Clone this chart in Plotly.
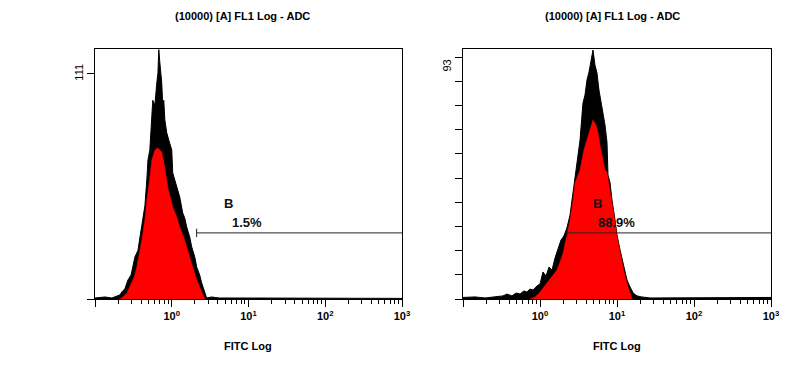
import plotly.graph_objects as go

# ---------------- data ----------------
title_text = "(10000) [A] FL1 Log - ADC"
x_title = "FITC Log"

# Left histogram: outer (black, noisy maximum) envelope
left_outer_x = [0.100, 0.135, 0.166, 0.195, 0.211, 0.224, 0.245, 0.269, 0.295, 0.331,
                0.363, 0.380, 0.417, 0.447, 0.473, 0.490, 0.518, 0.533, 0.550, 0.566,
                0.603, 0.619, 0.638, 0.661, 0.678, 0.698, 0.719, 0.741, 0.764, 0.787,
                0.813, 0.861, 0.914, 1.000, 1.030, 1.094, 1.161, 1.271, 1.390, 1.476,
                1.567, 1.714, 1.820, 1.995, 2.113, 2.312, 2.455, 2.692, 2.851, 3.311,
                4.169, 7.586, 45.7, 1000]
left_outer_y = [0.5, 1.0, 0.5, 1.5, 2, 3.5, 5, 9.4, 11.8, 20.7,
                24, 29, 39, 46, 58.7, 68.6, 73.5, 83, 91.8, 98,
                95.7, 103, 106.5, 111.5, 123, 117, 110.5, 106.5, 94.7, 98,
                88.3, 82, 78.4, 73.5, 62.2, 58.7, 55.3, 50.3, 42.4, 40,
                35.5, 30.6, 25.7, 20.7, 15.8, 11.8, 7.9, 3.5, 0.5, 1,
                0.5, 0.5, 0.5, 0.3]
# Left histogram: inner (red) envelope
left_inner_x = [0.211, 0.231, 0.261, 0.285, 0.324, 0.351, 0.384, 0.407, 0.447, 0.473,
                0.518, 0.550, 0.603, 0.661, 0.698, 0.741, 0.813, 0.887, 0.942, 1.030,
                1.161, 1.271, 1.432, 1.567, 1.714, 1.875, 2.051, 2.312, 2.529, 2.692]
left_inner_y = [0, 1, 3, 5.9, 10.9, 15.8, 23.2, 29.1, 39, 48.8,
                59.7, 68.6, 73.5, 74.5, 73.5, 72.5, 65, 55.3, 51.3, 45.4,
                40.5, 35.5, 30.6, 25.7, 20.7, 15.8, 10.9, 5.9, 2, 0]

# Right histogram: outer envelope
right_outer_x = [0.100, 0.143, 0.193, 0.261, 0.331, 0.372, 0.433, 0.490, 0.550, 0.617,
                 0.676, 0.741, 0.813, 0.914, 1.000, 1.094, 1.197, 1.309, 1.432, 1.567,
                 1.714, 1.875, 2.042, 2.239, 2.455, 2.606, 2.754, 2.938, 3.119, 3.311,
                 3.508, 3.614, 3.837, 4.074, 4.325, 4.592, 4.875, 5.176, 5.495, 5.834,
                 6.166, 6.577, 6.982, 7.413, 7.638, 8.128, 8.610, 9.419, 10.0, 10.96,
                 12.02, 13.49, 14.79, 16.22, 18.20, 20.89, 26.92, 120.2, 218.8, 1000]
right_outer_y = [0.6, 0.8, 0.4, 0.8, 1.2, 1.9, 1.2, 2.3, 1.9, 3.1,
                 2.7, 3.8, 3.5, 5, 5.8, 10.4, 8.8, 12.3, 11.1, 15.8,
                 19.6, 22.7, 24.2, 27.3, 32.3, 38, 43.8, 49.6, 55.3, 61.1,
                 70.7, 75.3, 78.4, 84.2, 87.2, 91.8, 95.7, 89.9, 86.9, 80.3,
                 76.5, 71.9, 66.9, 60.3, 47.7, 44.6, 38, 30.4, 24.6, 18.8,
                 13.1, 7.3, 4.6, 2.3, 1.2, 0.8, 0.4, 0.6, 0.4, 0.6]
# Right histogram: inner envelope
right_inner_x = [0.741, 0.861, 1.000, 1.230, 1.432, 1.660, 1.820, 1.995, 2.239, 2.455,
                 2.692, 2.851, 3.119, 3.311, 3.715, 4.074, 4.467, 4.875, 5.333, 5.662,
                 6.026, 6.383, 6.982, 7.413, 8.128, 8.610, 9.419, 10.0, 10.96, 11.61,
                 12.59, 13.49, 14.79, 15.67]
right_inner_y = [0, 0.8, 2.7, 6.1, 8.8, 11.1, 14.2, 17.7, 24.6, 30.4,
                 38, 44.6, 47.7, 49.6, 57.3, 61.1, 65.7, 68.8, 66.9, 64.2,
                 59.2, 55.3, 49.6, 48.8, 41.9, 36.9, 29.6, 23.8, 18.1, 13.8,
                 9.2, 6.1, 2.7, 0]

# gates (marker "B")
left_gate_x = [2.11, 1000]
left_gate_level = 32.6
left_gate_pct = "1.5%"
right_gate_x = [2.24, 1000]
right_gate_level = 25.4
right_gate_pct = "88.9%"
gate_name = "B"

left_ymax_label = 111
right_ymax_label = 93

major_vals = [0.1, 1, 10, 100, 1000]
major_text = ["", "<b>10<sup>0</sup></b>", "<b>10<sup>1</sup></b>",
              "<b>10<sup>2</sup></b>", "<b>10<sup>3</sup></b>"]

# ---------------- figure ----------------
FONT = "Liberation Sans, Arial, sans-serif"
fig = go.Figure()

def add_hist(xa, ya, ox, oy, ix, iy, gx, glevel):
    fig.add_trace(go.Scatter(x=ox, y=oy, xaxis=xa, yaxis=ya, mode="lines",
                             line=dict(color="black", width=1), fill="tozeroy",
                             fillcolor="black", hoverinfo="skip"))
    fig.add_trace(go.Scatter(x=ix, y=iy, xaxis=xa, yaxis=ya, mode="lines",
                             line=dict(color="#ff0000", width=0.5), fill="tozeroy",
                             fillcolor="#ff0000", hoverinfo="skip"))
    fig.add_trace(go.Scatter(x=gx, y=[glevel, glevel], xaxis=xa, yaxis=ya,
                             mode="lines", line=dict(color="#222222", width=1),
                             hoverinfo="skip"))
    fig.add_trace(go.Scatter(x=gx[:1], y=[glevel], xaxis=xa, yaxis=ya, mode="markers",
                             marker=dict(symbol="line-ns", size=6,
                                         line=dict(color="#222222", width=1)),
                             hoverinfo="skip"))

add_hist("x", "y", left_outer_x, left_outer_y, left_inner_x, left_inner_y,
         left_gate_x, left_gate_level)
add_hist("x2", "y2", right_outer_x, right_outer_y, right_inner_x, right_inner_y,
         right_gate_x, right_gate_level)

W, H = 800, 376
OFF = 8  # page body margin of the browser
def px(v):
    return (v - OFF) / W
def py(v):
    return (H - (v - OFF)) / H

ydom = [py(299), py(49)]

def xaxis_cfg(left, right):
    return dict(type="log", range=[-1, 3], domain=[px(left), px(right)],
                showline=True, linecolor="black", linewidth=1, mirror=True,
                ticks="outside", ticklen=7, tickcolor="black", tickwidth=1,
                tickvals=major_vals, ticktext=major_text,
                tickfont=dict(family=FONT, size=11, color="black"),
                minor=dict(ticks="outside", ticklen=4, tickcolor="black",
                           tickwidth=1, dtick="D1", showgrid=False),
                showgrid=False, zeroline=False, automargin=False)

def yaxis_cfg(top, vals, text):
    return dict(range=[0, top], domain=ydom, showline=True, linecolor="black",
                linewidth=1, mirror=True, ticks="outside", ticklen=7,
                tickcolor="black", tickvals=vals, ticktext=text, tickangle=-90,
                tickfont=dict(family=FONT, size=11, color="black"),
                showgrid=False, zeroline=False, automargin=False)

right_tick_vals = [right_ymax_label * k / 10 for k in range(11)]
right_tick_text = [""] * 10 + [str(right_ymax_label)]

fig.update_layout(
    width=W, height=H, margin=dict(l=0, r=0, t=0, b=0),
    paper_bgcolor="white", plot_bgcolor="white", showlegend=False,
    xaxis=dict(xaxis_cfg(95, 402), anchor="y"),
    yaxis=dict(yaxis_cfg(123.3, [0, left_ymax_label], ["", str(left_ymax_label)]), anchor="x"),
    xaxis2=dict(xaxis_cfg(463, 771), anchor="y2"),
    yaxis2=dict(yaxis_cfg(96.1, right_tick_vals, right_tick_text), anchor="x2",
                ticklabelshift=10),
)

annos = []
for cx in (242, 612):
    annos.append(dict(text="<b>" + title_text + "</b>", x=px(cx), y=1.0,
                      xref="paper", yref="paper", xanchor="center", yanchor="top",
                      showarrow=False, font=dict(family=FONT, size=11, color="black")))
for cx in (248, 617):
    annos.append(dict(text="<b>" + x_title + "</b>", x=px(cx), y=py(346),
                      xref="paper", yref="paper", xanchor="center", yanchor="middle",
                      showarrow=False, font=dict(family=FONT, size=11, color="black")))

def gate_labels(xr, yr, bx, by, lx, ly, pct):
    annos.append(dict(text="<b>" + gate_name + "</b>", x=bx, y=by, xref=xr, yref=yr,
                      xanchor="center", yanchor="middle", showarrow=False,
                      font=dict(family=FONT, size=13, color="#111111")))
    annos.append(dict(text="<b>" + pct + "</b>", x=lx, y=ly, xref=xr, yref=yr,
                      xanchor="center", yanchor="middle", showarrow=False,
                      font=dict(family=FONT, size=13, color="#111111")))

gate_labels("x", "y", 0.74, 46.9, 0.974, 37.8, left_gate_pct)
gate_labels("x2", "y2", 0.753, 36.9, 0.987, 29.3, right_gate_pct)
fig.update_layout(annotations=annos)

fig.write_html("out.html")
